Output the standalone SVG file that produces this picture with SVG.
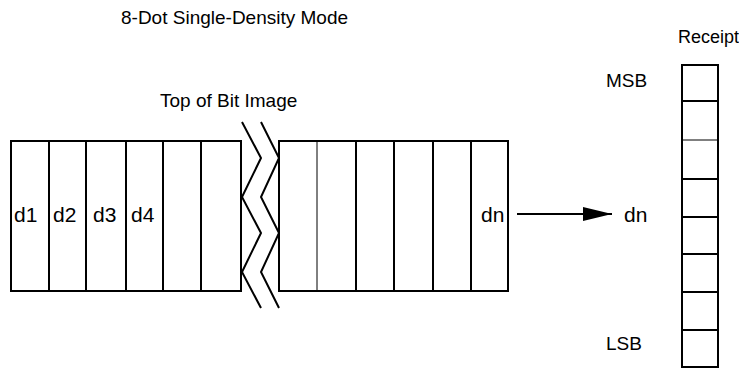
<svg xmlns="http://www.w3.org/2000/svg" width="739" height="369" viewBox="0 0 739 369">
<style>
text{font-family:"Liberation Sans",Arial,sans-serif;font-size:19px;fill:#000}
.c{font-size:21px}
.s{fill:none;stroke:#000;stroke-width:2}
.t{fill:none;stroke:#000;stroke-width:1}
</style>
<defs>
<marker id="ah" markerWidth="29" markerHeight="14" refX="29" refY="7" orient="auto" markerUnits="userSpaceOnUse" viewBox="0 0 29 14">
<path d="M0,0 L29,7 L0,14 Z" fill="#000"/>
</marker>
</defs>
<rect width="739" height="369" fill="#fff"/>
<g id="labels">
<text x="121" y="24">8-Dot Single-Density Mode</text>
<text x="160" y="107">Top of Bit Image</text>
<text x="678" y="43" style="font-size:18px">Receipt</text>
</g>
<g id="left-block">
<rect class="s" x="11" y="141" width="230" height="150"/>
<path class="s" d="M49,141V291M86,141V291M126,141V291M163,141V291M201,141V291"/>
<text class="c" x="14" y="222">d1</text>
<text class="c" x="53" y="222">d2</text>
<text class="c" x="93" y="222">d3</text>
<text class="c" x="131" y="222">d4</text>
</g>
<g id="break">
<polyline class="s" points="242,122 261,158 242,197 261,233 242,272 261,308"/>
<polyline class="s" points="261,122 279,158 261,197 279,233 261,272 279,308"/>
</g>
<g id="right-block">
<rect class="s" x="279" y="141" width="229" height="150"/>
<path class="t" d="M317,141V291"/>
<path class="s" d="M356,141V291M394,141V291M433,141V291M471,141V291"/>
<text class="c" x="481" y="222">dn</text>
</g>
<g id="receipt">
<rect class="s" x="682" y="65" width="36" height="302"/>
<path class="s" d="M682,101H718M682,179H718M682,217H718M682,254H718M682,292H718M682,330H718"/>
<path class="t" d="M682,140H718"/>
<text x="606" y="87">MSB</text>
<text class="c" x="624" y="222">dn</text>
<text x="606" y="350">LSB</text>
</g>
<g id="connectors">
<line class="s" x1="517" y1="214" x2="612" y2="214" marker-end="url(#ah)"/>
</g>
</svg>
